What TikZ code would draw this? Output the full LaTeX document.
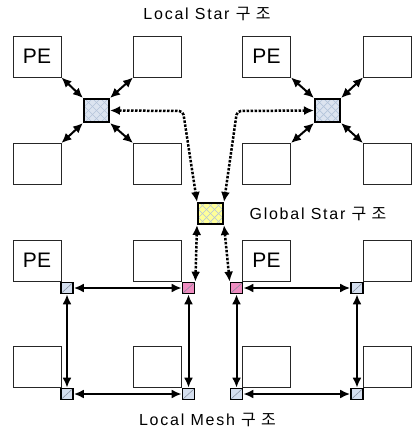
\documentclass[tikz,border=0pt]{standalone}
\usepackage{fontspec}
\setmainfont{Liberation Sans}
\newfontfamily\lbl[LetterSpace=11]{Liberation Sans}
\newfontfamily\kr[LetterSpace=11]{Noto Sans CJK KR}
\usetikzlibrary{arrows.meta}
\definecolor{rblue}{HTML}{DCE4F0}
\definecolor{lat}{HTML}{B4C4DA}
\definecolor{ryel}{HTML}{FFFF99}
\definecolor{rpink}{HTML}{EE8CC0}
\definecolor{mblue}{HTML}{D4DEEE}
\begin{document}
\begin{tikzpicture}[x=1pt,y=-1pt,
  pebox/.style={draw=black!85,line width=0.9pt,minimum width=48pt,minimum height=41pt,inner sep=0pt,font=\fontsize{21}{21}\selectfont},
  lattice/.style={path picture={
    \foreach \k in {-24,-16,...,24}{
      \draw[lat,line width=0.7pt] ([xshift=\k pt]path picture bounding box.center) ++(-16,-16) -- ++(32,32);
      \draw[lat,line width=0.7pt] ([xshift=\k pt]path picture bounding box.center) ++(-16,16) -- ++(32,-32);
    }}},
  router/.style={draw=black,line width=2pt,minimum width=25pt,minimum height=23pt,inner sep=0pt,lattice},
  mrouter/.style={draw=black,line width=1.7pt,minimum width=12pt,minimum height=11pt,inner sep=0pt,
    path picture={\draw[lat!70!black,line width=0.5pt] (path picture bounding box.south west) -- (path picture bounding box.north east);}},
  tip/.tip={Latex[length=10pt,width=9pt]},
  biarrow/.style={tip-tip,line width=2pt},
  dashbi/.style={tip-tip,line width=2.5pt,dash pattern=on 2.5pt off 1.5pt,rounded corners=4pt},
  title/.style={font=\lbl\fontsize{16}{16}\selectfont,inner sep=0pt}
]
\useasboundingbox (0,0) rectangle (413,430);
% top-left quadrant
\node[pebox] (a1) at (37,56.5) {PE};
\node[pebox] (a2) at (157.5,56.5) {};
\node[pebox] (a3) at (37,164) {};
\node[pebox] (a4) at (157.5,164) {};
\node[router,fill=rblue] (r1) at (96.5,110.5) {};
% top-right quadrant
\node[pebox] (b1) at (266.5,56.5) {PE};
\node[pebox] (b2) at (387.5,56.5) {};
\node[pebox] (b3) at (266.5,164) {};
\node[pebox] (b4) at (387.5,164) {};
\node[router,fill=rblue] (r2) at (327.5,110.5) {};
% global
\node[router,fill=ryel,minimum height=21pt] (g) at (210.5,213.5) {};
% bottom-left
\node[pebox] (c1) at (37,260.5) {PE};
\node[pebox] (c2) at (157.5,260.5) {};
\node[pebox] (c3) at (37,367) {};
\node[pebox] (c4) at (157.5,367) {};
% bottom-right
\node[pebox] (d1) at (266.5,260.5) {PE};
\node[pebox] (d2) at (387.5,260.5) {};
\node[pebox] (d3) at (266.5,367) {};
\node[pebox] (d4) at (387.5,367) {};
% mesh routers
\node[mrouter,fill=mblue] (m11) at (67,288) {};
\node[mrouter,fill=rpink] (m12) at (188.5,288) {};
\node[mrouter,fill=mblue] (m13) at (67,394) {};
\node[mrouter,fill=mblue] (m14) at (188.5,394) {};
\node[mrouter,fill=rpink] (m21) at (236.5,288) {};
\node[mrouter,fill=mblue] (m22) at (357,288) {};
\node[mrouter,fill=mblue] (m23) at (236.5,394) {};
\node[mrouter,fill=mblue] (m24) at (357,394) {};
% labels
\node[title] (t1) at (207,14) {Local Star {\kr 구 조}};
\node[title] (t2) at (318,214) {Global Star {\kr 구 조}};
\node[title] (t3) at (207.5,419.5) {Local Mesh {\kr 구 조}};
% star arrows
\draw[biarrow] (a1.south east) -- (r1.north west);
\draw[biarrow] (a2.south west) -- (r1.north east);
\draw[biarrow] (a3.north east) -- (r1.south west);
\draw[biarrow] (a4.north west) -- (r1.south east);
\draw[biarrow] (b1.south east) -- (r2.north west);
\draw[biarrow] (b2.south west) -- (r2.north east);
\draw[biarrow] (b3.north east) -- (r2.south west);
\draw[biarrow] (b4.north west) -- (r2.south east);
% mesh arrows
\draw[biarrow] (m11.east) -- (m12.west);
\draw[biarrow] (m13.east) -- (m14.west);
\draw[biarrow] (m11.south) -- (m13.north);
\draw[biarrow] (m12.south) -- (m14.north);
\draw[biarrow] (m21.east) -- (m22.west);
\draw[biarrow] (m23.east) -- (m24.west);
\draw[biarrow] (m21.south) -- (m23.north);
\draw[biarrow] (m22.south) -- (m24.north);
% global dashed links
\coordinate (k1) at (183,111);
\coordinate (k2) at (237,111);
\draw[dashbi] (r1.east) -- (k1) -- (g.north west);
\draw[dashbi] (r2.west) -- (k2) -- (g.north east);
\draw[dashbi] (g.south west) -- (m12.north east);
\draw[dashbi] (g.south east) -- (m21.north west);
\end{tikzpicture}
\end{document}
